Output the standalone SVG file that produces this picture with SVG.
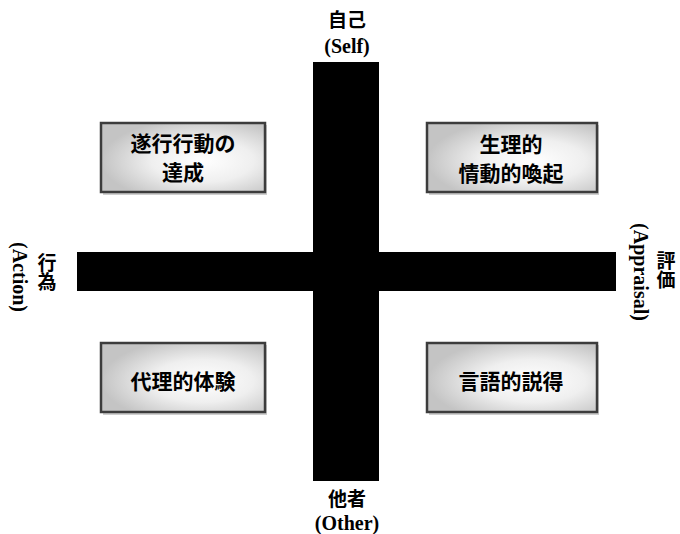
<svg xmlns="http://www.w3.org/2000/svg" width="680" height="534" viewBox="0 0 680 534">
<defs>
<radialGradient id="boxgrad" cx="62%" cy="55%" r="62%" fx="62%" fy="55%">
<stop offset="0" stop-color="#ffffff"/>
<stop offset="0.5" stop-color="#efefef"/>
<stop offset="1" stop-color="#c4c4c4"/>
</radialGradient>
</defs>
<style>
.box{fill:url(#boxgrad);stroke:#3c3c3c;stroke-width:2.5}
.shadow{fill:#cfcfcf}
.bar{fill:#000}
.jp{font-family:"Noto Sans CJK JP","Noto Sans CJK SC",sans-serif;font-weight:bold;fill:#000;text-anchor:middle}
.en{font-family:"Liberation Serif",serif;font-weight:bold;fill:#000;text-anchor:middle}
.vt{writing-mode:vertical-rl}
.bt{font-size:21px}
.lt{font-size:19px}
.et{font-size:20px}
</style>
<rect width="680" height="534" fill="#fff"/>
<g id="axes">
<rect class="bar" x="313" y="62" width="66" height="419"/>
<rect class="bar" x="77" y="252" width="539" height="39"/>
</g>
<g id="self">
<text class="jp lt" x="347" y="27">自己</text>
<text class="en et" x="347" y="53">(Self)</text>
</g>
<g id="other">
<text class="jp lt" x="347" y="506">他者</text>
<text class="en et" x="347" y="530">(Other)</text>
</g>
<g id="action">
<text class="jp lt vt" x="47" y="272">行為</text>
<text class="en et" transform="translate(13,277) rotate(90)" x="0" y="0">(Action)</text>
</g>
<g id="appraisal">
<text class="jp lt vt" x="666" y="270">評価</text>
<text class="en et" transform="translate(634,272) rotate(90)" x="0" y="0">(Appraisal)</text>
</g>
<g id="mastery">
<rect class="shadow" x="103" y="125" width="164" height="70"/>
<rect class="box" x="101" y="123" width="164" height="69"/>
<text class="jp bt" x="183" y="151">遂行行動の</text>
<text class="jp bt" x="183" y="180">達成</text>
</g>
<g id="arousal">
<rect class="shadow" x="429" y="125" width="170" height="70"/>
<rect class="box" x="427" y="123" width="170" height="69"/>
<text class="jp bt" x="511" y="152">生理的</text>
<text class="jp bt" x="511" y="181">情動的喚起</text>
</g>
<g id="vicarious">
<rect class="shadow" x="103" y="345" width="164" height="70"/>
<rect class="box" x="101" y="343" width="164" height="69"/>
<text class="jp bt" x="183" y="389">代理的体験</text>
</g>
<g id="persuasion">
<rect class="shadow" x="429" y="345" width="170" height="70"/>
<rect class="box" x="427" y="343" width="170" height="69"/>
<text class="jp bt" x="511" y="389">言語的説得</text>
</g>
</svg>
